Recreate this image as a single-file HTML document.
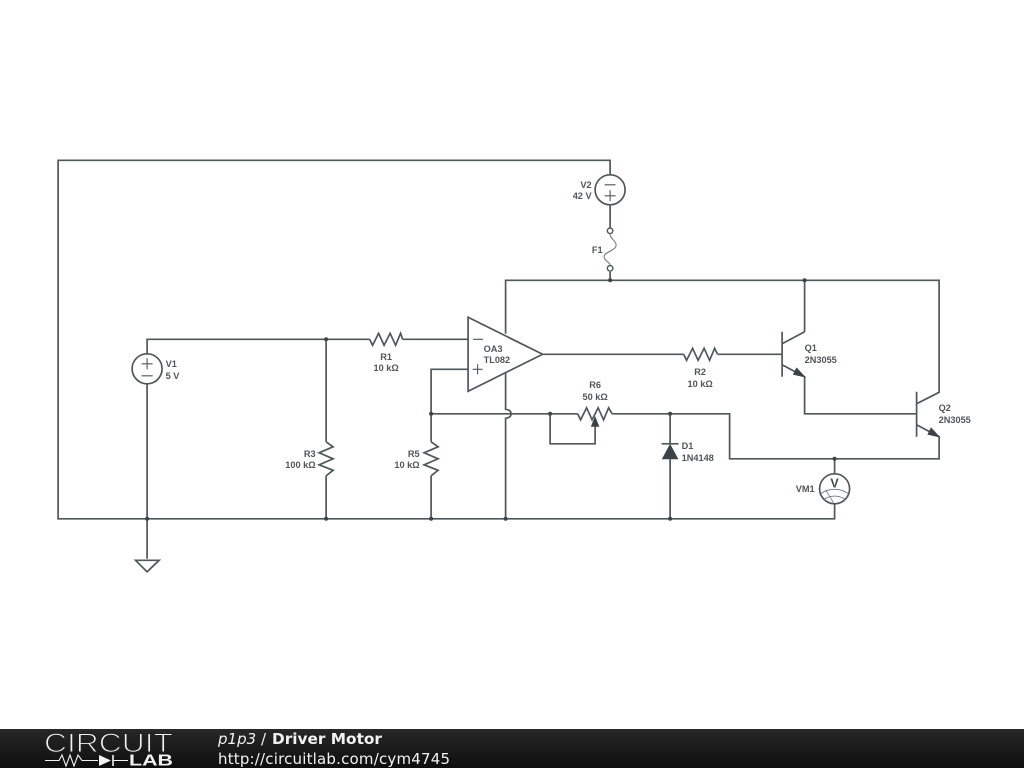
<!DOCTYPE html>
<html><head><meta charset="utf-8"><style>
html,body{margin:0;padding:0;background:#fff;width:1024px;height:768px;overflow:hidden}
svg{display:block}
.w{fill:none;stroke:#50575b;stroke-width:1.7}
.d{fill:#3c4347}
.f{fill:#3c4347;stroke:#3c4347;stroke-width:1}
text.l{font-family:"Liberation Sans",Arial,sans-serif;font-size:9.2px;font-weight:bold;fill:#50565a}
.ft{font-family:"DejaVu Sans",sans-serif;fill:#f2f2f2}
</style></head><body>
<svg width="1024" height="768" viewBox="0 0 1024 768" xmlns="http://www.w3.org/2000/svg">
<defs><linearGradient id="g" x1="0" y1="0" x2="0" y2="1"><stop offset="0" stop-color="#282828"/><stop offset="1" stop-color="#0e0e0e"/></linearGradient></defs>
<g transform="translate(-0.4,-0.2)">
<!-- wires -->
<path class="w" d="M610.5 175V160.500H58.500V519H835V504"/>
<path class="w" d="M610.500 205V228M610.500 272V280.500"/>
<path class="w" d="M506 334V280.500H939.500V392.500L917 404"/>
<path class="w" d="M506 373V409.500C510 410 511.500 412 511.500 414C511.500 416 510 418 506 418.500V519"/>
<path class="w" d="M147.500 354V339.500H370M403 339.500H468"/>
<path class="w" d="M147.500 384V559"/>
<path class="w" d="M136 560.500H159.500L147.500 572Z"/>
<path class="w" d="M326.500 339.500V442M326.500 476V519"/>
<path class="w" d="M468 369.500H431.500V442M431.500 476V519"/>
<path class="w" d="M431.500 414H578M612.500 414H730V459H939.500V437L917 425"/>
<path class="w" d="M550.500 414V444H595.500V426"/>
<path class="w" d="M670.500 414V444M670.500 459V519"/>
<path class="w" d="M835 459V474"/>
<path class="w" d="M543 354.500H684M718 354.500H782.500"/>
<path class="w" d="M805 332V280.500"/>
<path class="w" d="M782.500 344L805 332M782.500 365L805 377V414H917"/>
<!-- resistors -->
<path class="w" d="M370 339.500L373 345.500L379 333.500L384.500 345.500L390.500 333.500L396 345.500L401 333.500L403 339.500"/>
<path class="w" d="M684 354.500L687 360.500L693 348.500L698.500 360.500L704.500 348.500L710 360.500L715 348.500L718 354.500"/>
<path class="w" d="M578 414L581 420L587 408L592.500 420L598.500 408L604 420L609 408L612.500 414"/>
<path class="w" d="M326.500 442L333.500 447L319.500 453L333.500 459L319.500 465L333.500 470.500L326.500 476"/>
<path class="w" d="M431.500 442L438.500 447L424.500 453L438.500 459L424.500 465L438.500 470.500L431.500 476"/>
<path class="f" d="M595.500 417.500L599 426.500H592Z"/>
<!-- op amp -->
<path class="w" d="M468.500 317.500L543 354.500L468.500 391.500Z"/>
<path class="w" style="stroke-width:1.1" d="M473.500 339.500H483.500M473 369.500H483M478 364.500V374.500"/>
<!-- sources -->
<circle class="w" cx="610.500" cy="190" r="15"/>
<path class="w" style="stroke-width:1.1" d="M605 185H616M605 196H616M610.500 190.500V201.500"/>
<circle class="w" cx="147.500" cy="369" r="15"/>
<path class="w" style="stroke-width:1.1" d="M142 364H153M147.500 358.500V369.500M142 376H153"/>
<!-- fuse -->
<circle class="w" style="stroke-width:1.4" cx="610.500" cy="231" r="2.800"/>
<circle class="w" style="stroke-width:1.4" cx="610.500" cy="268.500" r="2.800"/>
<path d="M610.500 234C610 239 617 241 616.500 245.500C616 251 605 252 604.500 256.500C604 261 610.500 262 610.500 265.500" fill="none" stroke="#83888b" stroke-width="1.200"/>
<!-- diode -->
<path class="w" d="M662 444H679"/>
<path class="f" d="M670.500 445L678 459H663Z"/>
<!-- transistors -->
<path class="w" d="M782.500 332V377M917 392V437"/>
<path class="f" d="M805 377L794 374.500L797 368.500Z"/>
<path class="f" d="M939.500 437L928.500 434.500L931.500 428.500Z"/>
<!-- voltmeter -->
<circle class="w" cx="835" cy="489" r="15"/>
<path d="M821 494C829 488 841 488 849 494M824 500C830 495 840 495 846 500M826 490L834 503" fill="none" stroke="#6e7478" stroke-width="0.800"/>
<text x="835" y="487.500" text-anchor="middle" style="font-family:'Liberation Sans',sans-serif;font-size:12.500px;font-weight:bold;fill:#444a4e">V</text>
<!-- dots -->
<g class="d">
<circle cx="147.500" cy="519" r="2"/><circle cx="326.500" cy="339.500" r="2"/><circle cx="326.500" cy="519" r="2"/>
<circle cx="431.500" cy="414" r="2"/><circle cx="431.500" cy="519" r="2"/><circle cx="506" cy="519" r="2"/>
<circle cx="610.500" cy="280.500" r="2"/><circle cx="805" cy="280.500" r="2"/><circle cx="550.500" cy="414" r="2"/>
<circle cx="670.500" cy="414" r="2"/><circle cx="670.500" cy="519" r="2"/><circle cx="835" cy="459" r="2"/>
</g>
<!-- labels -->
<text class="l" x="592" y="188" text-anchor="end">V2</text>
<text class="l" x="592" y="199" text-anchor="end">42 V</text>
<text class="l" x="603" y="253" text-anchor="end">F1</text>
<text class="l" x="166" y="367">V1</text>
<text class="l" x="166" y="379">5 V</text>
<text class="l" x="386.500" y="360" text-anchor="middle">R1</text>
<text class="l" x="386.500" y="371" text-anchor="middle">10 kΩ</text>
<text class="l" x="316" y="457" text-anchor="end">R3</text>
<text class="l" x="316" y="468" text-anchor="end">100 kΩ</text>
<text class="l" x="420" y="457" text-anchor="end">R5</text>
<text class="l" x="420" y="468" text-anchor="end">10 kΩ</text>
<text class="l" x="484" y="352">OA3</text>
<text class="l" x="484" y="363">TL082</text>
<text class="l" x="595.500" y="388" text-anchor="middle">R6</text>
<text class="l" x="595.500" y="400" text-anchor="middle">50 kΩ</text>
<text class="l" x="700.500" y="375" text-anchor="middle">R2</text>
<text class="l" x="700.500" y="387" text-anchor="middle">10 kΩ</text>
<text class="l" x="682" y="449">D1</text>
<text class="l" x="682" y="461">1N4148</text>
<text class="l" x="805" y="351">Q1</text>
<text class="l" x="805" y="363">2N3055</text>
<text class="l" x="939" y="411">Q2</text>
<text class="l" x="939" y="423">2N3055</text>
<text class="l" x="815" y="492" text-anchor="end">VM1</text>
</g>
<!-- footer -->
<rect x="0" y="729" width="1024" height="39" fill="url(#g)"/>
<text x="44" y="752" textLength="129" lengthAdjust="spacingAndGlyphs" style="font-family:'Liberation Sans',sans-serif;font-size:27px;fill:#f2f2f2;stroke:#222;stroke-width:1.100">CIRCUIT</text>
<path d="M45 760.500H59L62 755L66 766L70 755L74 766L78 755L82 760.500H98M113 760.500H128" fill="none" stroke="#f2f2f2" stroke-width="1.100"/>
<path d="M99 755V766L111 760.500Z" fill="#f2f2f2"/>
<path d="M113 755V766" stroke="#f2f2f2" stroke-width="1.600"/>
<text x="129" y="765.500" textLength="44" lengthAdjust="spacingAndGlyphs" style="font-family:'Liberation Sans',sans-serif;font-size:16px;font-weight:bold;fill:#f2f2f2">LAB</text>
<text class="ft" x="218" y="744" font-size="15" font-style="italic">p1p3</text>
<text class="ft" x="261" y="744" font-size="15">/</text>
<text class="ft" x="272" y="744" font-size="15" font-weight="bold" textLength="110" lengthAdjust="spacingAndGlyphs">Driver Motor</text>
<text class="ft" x="218" y="764" font-size="15" textLength="232">http://circuitlab.com/cym4745</text>
</svg>
</body></html>
